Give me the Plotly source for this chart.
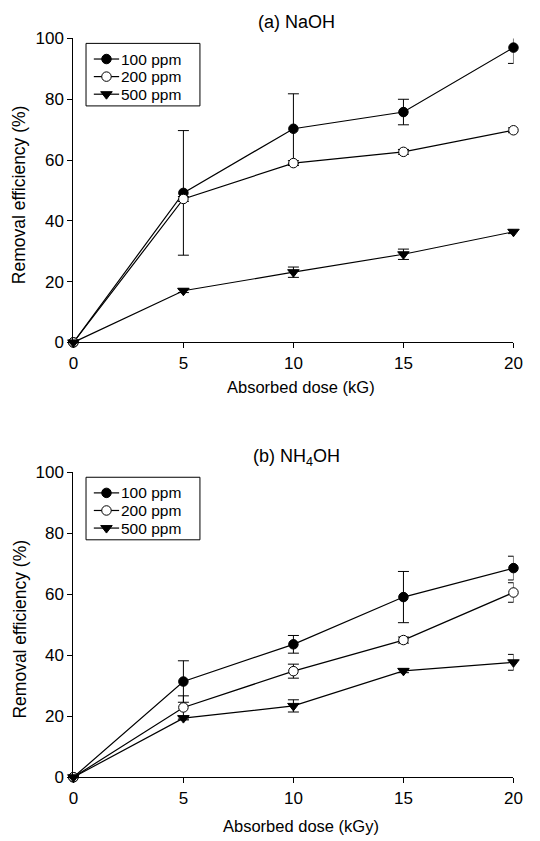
import plotly.graph_objects as go

# ---- data ----
dose = [0, 5, 10, 15, 20]
series_names = ["100 ppm", "200 ppm", "500 ppm"]

naoh_100 = [0, 49.2, 70.3, 75.8, 97.0]
naoh_100_err = [0, 20.5, 11.5, 4.2, 5.2]
naoh_200 = [0, 47.2, 59.0, 62.7, 69.8]
naoh_200_err = [0, 0.8, 0.8, 0.8, 0.8]
naoh_500 = [0, 17.0, 23.1, 29.0, 36.4]
naoh_500_err = [0, 0.6, 1.7, 1.7, 0.6]

nh4_100 = [0, 31.4, 43.6, 59.1, 68.6]
nh4_100_err = [0, 6.8, 2.9, 8.4, 3.9]
nh4_200 = [0, 22.9, 34.8, 45.0, 60.6]
nh4_200_err = [0, 3.8, 2.3, 1.0, 3.2]
nh4_500 = [0, 19.4, 23.4, 34.9, 37.7]
nh4_500_err = [0, 0.6, 2.0, 0.6, 2.6]

x_ticks = [0, 5, 10, 15, 20]
y_ticks = [0, 20, 40, 60, 80, 100]

FONT = "Liberation Sans, Arial, Helvetica, sans-serif"
OFF = 8                     # default page body margin
W, H = 540 - OFF, 841 - OFF


def sx(px):  # screen x -> figure pixel
    return px - OFF


def sy(py):
    return py - OFF


styles = [
    dict(symbol="circle", size=9.5, color="black", line=dict(color="black", width=1)),
    dict(symbol="circle", size=9.5, color="white", line=dict(color="black", width=1)),
    dict(symbol="triangle-down", size=10, color="black", line=dict(color="black", width=1)),
]

X0, X20 = 70, 522
panels = [
    dict(xa="x", ya="y", ys=[naoh_100, naoh_200, naoh_500],
         errs=[naoh_100_err, naoh_200_err, naoh_500_err],
         top=30, bot=341, title="(a) NaOH", title_y=13,
         xtitle="Absorbed dose (kG)", xtitle_y=387, leg_top=35),
    dict(xa="x2", ya="y2", ys=[nh4_100, nh4_200, nh4_500],
         errs=[nh4_100_err, nh4_200_err, nh4_500_err],
         top=474, bot=786, title="(b) NH<sub>4</sub>OH", title_y=459,
         xtitle="Absorbed dose (kGy)", xtitle_y=836, leg_top=479),
]

fig = go.Figure()

for p in panels:
    for yv, ev in zip(p["ys"], p["errs"]):
        fig.add_trace(go.Scatter(
            x=dose, y=yv, mode="markers", xaxis=p["xa"], yaxis=p["ya"],
            marker=dict(size=1, opacity=0), showlegend=False, hoverinfo="skip",
            error_y=dict(type="data", array=ev, visible=True, color="black",
                         thickness=1, width=5.5),
            cliponaxis=True,
        ))
    for name, yv, st in zip(series_names, p["ys"], styles):
        fig.add_trace(go.Scatter(
            x=dose, y=yv, mode="lines+markers", name=name, xaxis=p["xa"], yaxis=p["ya"],
            line=dict(color="black", width=1.2), marker=st, showlegend=False,
            cliponaxis=False,
        ))

axis_common = dict(
    showgrid=False, zeroline=False, showline=True, linecolor="black", linewidth=1,
    ticks="outside", ticklen=5, tickwidth=1, tickcolor="black",
    tickfont=dict(family=FONT, size=17, color="black"),
)
xdom = [sx(X0) / W, sx(X20) / W]


def ydom(top_px, bot_px):
    return [(H - sy(bot_px)) / H, (H - sy(top_px)) / H]


fig.update_layout(
    width=W, height=H, paper_bgcolor="white", plot_bgcolor="rgba(0,0,0,0)",
    margin=dict(l=0, r=0, t=0, b=0), showlegend=False,
    font=dict(family=FONT, color="black"),
    xaxis=dict(axis_common, range=[0, 20], tickvals=x_ticks, anchor="y", domain=xdom),
    yaxis=dict(axis_common, range=[0, 100], tickvals=y_ticks, anchor="x",
               domain=ydom(panels[0]["top"], panels[0]["bot"])),
    xaxis2=dict(axis_common, range=[0, 20], tickvals=x_ticks, anchor="y2", domain=xdom),
    yaxis2=dict(axis_common, range=[0, 100], tickvals=y_ticks, anchor="x2",
                domain=ydom(panels[1]["top"], panels[1]["bot"])),
    # overlay in screen-pixel coordinates for legend/annotations
    xaxis3=dict(domain=[0, 1], range=[OFF, OFF + W], visible=False, anchor="y3",
                fixedrange=True),
    yaxis3=dict(domain=[0, 1], range=[OFF + H, OFF], visible=False, anchor="x3",
                fixedrange=True),
)

for p in panels:
    xc = (X0 + X20) / 2
    fig.add_annotation(text=p["title"], x=xc + 3, y=p["title_y"], xref="x3", yref="y3",
                       xanchor="center", yanchor="middle", showarrow=False,
                       font=dict(family=FONT, size=18, color="black"))
    fig.add_annotation(text=p["xtitle"], x=xc + 8, y=p["xtitle_y"], xref="x3", yref="y3",
                       xanchor="center", yanchor="middle", showarrow=False,
                       font=dict(family=FONT, size=16.5, color="black"))
    fig.add_annotation(text="Removal efficiency (%)", x=15, y=(p["top"] + p["bot"]) / 2 + 4,
                       xref="x3", yref="y3", xanchor="center", yanchor="middle",
                       showarrow=False, textangle=-90,
                       font=dict(family=FONT, size=17.5, color="black"))
    # legend box
    lt = p["leg_top"]
    fig.add_shape(type="rect", x0=83, x1=200, y0=lt, y1=lt + 64, xref="x3", yref="y3",
                  line=dict(color="black", width=1), fillcolor="white", layer="below")
    for i, (name, st) in enumerate(zip(series_names, styles)):
        ry = lt + 16 + 18 * i
        fig.add_shape(type="line", x0=91, x1=117, y0=ry, y1=ry, xref="x3", yref="y3",
                      line=dict(color="black", width=1.2), layer="below")
        fig.add_trace(go.Scatter(x=[104], y=[ry], mode="markers", xaxis="x3", yaxis="y3",
                                 marker=st, showlegend=False, hoverinfo="skip",
                                 cliponaxis=False))
        fig.add_annotation(text=name, x=117, y=ry, xref="x3", yref="y3",
                           xanchor="left", yanchor="middle", showarrow=False,
                           font=dict(family=FONT, size=15.5, color="black"))

fig.write_html("out.html")
